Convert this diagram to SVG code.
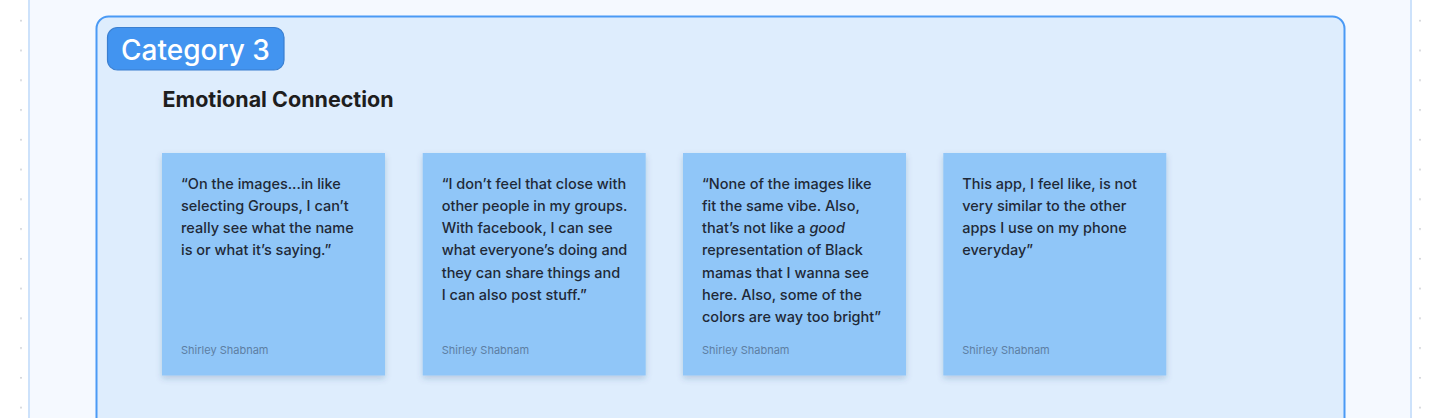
<svg xmlns="http://www.w3.org/2000/svg" width="1442" height="418" viewBox="0 0 1442 418">
  <defs>
    <pattern id="dots" x="0" y="0" width="30" height="29.76" patternUnits="userSpaceOnUse">
      <circle cx="21" cy="20.7" r="0.9" fill="#c4c7cc"/>
    </pattern>
    <filter id="shadow" x="-10%" y="-10%" width="120%" height="125%">
      <feDropShadow dx="0" dy="3" stdDeviation="3" flood-color="#2a4f7a" flood-opacity="0.22"/>
    </filter>
  </defs>
  <style>
    .note { fill: #90c6f8; filter: url(#shadow); }
    .quote { font-family: Inter, "Noto Sans", sans-serif; font-size: 14.5px; font-weight: 500; fill: #1f2937; }
    .author { font-family: Inter, "Noto Sans", sans-serif; font-size: 11px; fill: #5d7ea3; }
  </style>
  <rect x="0" y="0" width="1442" height="418" fill="#ffffff"/>
  <rect x="0" y="0" width="28" height="418" fill="url(#dots)"/>
  <g transform="translate(1399 0)"><rect x="0" y="0" width="43" height="418" fill="url(#dots)"/></g>
  <g id="panel">
    <rect x="29" y="-20" width="1382" height="460" fill="#f5f9ff" stroke="#cde2fb" stroke-width="2"/>
  </g>
  <g id="category">
    <rect x="96.5" y="16.5" width="1248" height="430" rx="12" fill="#deedfd" stroke="#4a9af5" stroke-width="2"/>
    <rect x="107.5" y="27.5" width="176.5" height="42.5" rx="10" fill="#4294f0" stroke="#3a7fd0" stroke-width="1.2"/>
    <text x="121" y="59.5" font-family="Inter, 'Noto Sans', sans-serif" font-size="28" font-weight="500" fill="#ffffff">Category 3</text>
    <text x="162.5" y="107.3" font-family="Inter, 'Noto Sans', sans-serif" font-size="21.5" font-weight="700" fill="#1e1e1e">Emotional Connection</text>
  </g>
  <g id="note1">
    <rect class="note" x="162" y="153" width="223" height="222.5"/>
    <text class="quote" x="181" y="188.5">
      <tspan x="181">“On the images...in like</tspan>
      <tspan x="181" dy="22.3">selecting Groups, I can’t</tspan>
      <tspan x="181" dy="22.3">really see what the name</tspan>
      <tspan x="181" dy="22.3">is or what it’s saying.”</tspan>
    </text>
    <text class="author" x="181" y="353.7">Shirley Shabnam</text>
  </g>
  <g id="note2">
    <rect class="note" x="422.7" y="153" width="223" height="222.5"/>
    <text class="quote" x="441.7" y="188.5">
      <tspan x="441.7">“I don’t feel that close with</tspan>
      <tspan x="441.7" dy="22.3">other people in my groups.</tspan>
      <tspan x="441.7" dy="22.3">With facebook, I can see</tspan>
      <tspan x="441.7" dy="22.3">what everyone’s doing and</tspan>
      <tspan x="441.7" dy="22.3">they can share things and</tspan>
      <tspan x="441.7" dy="22.3">I can also post stuff.”</tspan>
    </text>
    <text class="author" x="441.7" y="353.7">Shirley Shabnam</text>
  </g>
  <g id="note3">
    <rect class="note" x="683" y="153" width="223" height="222.5"/>
    <text class="quote" x="702" y="188.5">
      <tspan x="702">“None of the images like</tspan>
      <tspan x="702" dy="22.3">fit the same vibe. Also,</tspan>
      <tspan x="702" dy="22.3">that’s not like a <tspan font-style="italic">good</tspan></tspan>
      <tspan x="702" dy="22.3">representation of Black</tspan>
      <tspan x="702" dy="22.3">mamas that I wanna see</tspan>
      <tspan x="702" dy="22.3">here. Also, some of the</tspan>
      <tspan x="702" dy="22.3">colors are way too bright”</tspan>
    </text>
    <text class="author" x="702" y="353.7">Shirley Shabnam</text>
  </g>
  <g id="note4">
    <rect class="note" x="943.3" y="153" width="223" height="222.5"/>
    <text class="quote" x="962.3" y="188.5">
      <tspan x="962.3">This app, I feel like, is not</tspan>
      <tspan x="962.3" dy="22.3">very similar to the other</tspan>
      <tspan x="962.3" dy="22.3">apps I use on my phone</tspan>
      <tspan x="962.3" dy="22.3">everyday”</tspan>
    </text>
    <text class="author" x="962.3" y="353.7">Shirley Shabnam</text>
  </g>
</svg>
